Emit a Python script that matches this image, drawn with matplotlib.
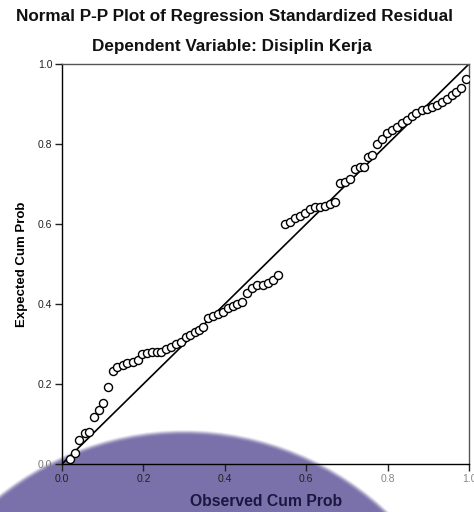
import numpy as np
import matplotlib
matplotlib.use('Agg')
import matplotlib.pyplot as plt
from matplotlib.patches import Ellipse

plt.rcParams['font.family'] = ['Liberation Sans', 'DejaVu Sans']

# observed vs expected cumulative probability
observed = [0.020, 0.032, 0.042, 0.057, 0.066, 0.079, 0.091, 0.101, 0.113, 0.125,
            0.135, 0.150, 0.160, 0.174, 0.187, 0.197, 0.209, 0.221, 0.233, 0.243,
            0.256, 0.268, 0.280, 0.292, 0.305, 0.314, 0.327, 0.337, 0.346, 0.359,
            0.371, 0.383, 0.396, 0.408, 0.420, 0.430, 0.442, 0.455, 0.467, 0.479,
            0.494, 0.506, 0.518, 0.531,
            0.548, 0.560, 0.572, 0.585, 0.597, 0.609, 0.622, 0.634, 0.646, 0.658,
            0.671, 0.683, 0.695, 0.708, 0.720, 0.732, 0.742, 0.752, 0.762, 0.774,
            0.786, 0.799, 0.811, 0.823, 0.835, 0.848, 0.860, 0.870, 0.885, 0.897,
            0.909, 0.921, 0.934, 0.946, 0.958, 0.968, 0.980, 0.993]
expected = [0.013, 0.028, 0.060, 0.078, 0.080, 0.118, 0.135, 0.153, 0.193, 0.233,
            0.243, 0.248, 0.253, 0.255, 0.260, 0.275, 0.278, 0.280, 0.280, 0.280,
            0.288, 0.293, 0.300, 0.305, 0.318, 0.323, 0.330, 0.335, 0.343, 0.365,
            0.370, 0.375, 0.380, 0.390, 0.395, 0.400, 0.405, 0.428, 0.440, 0.448,
            0.448, 0.453, 0.460, 0.473,
            0.600, 0.605, 0.615, 0.620, 0.628, 0.638, 0.643, 0.643, 0.645, 0.650,
            0.655, 0.703, 0.705, 0.713, 0.738, 0.743, 0.743, 0.768, 0.773, 0.800,
            0.813, 0.828, 0.835, 0.843, 0.853, 0.860, 0.870, 0.878, 0.885, 0.888,
            0.893, 0.898, 0.905, 0.913, 0.923, 0.930, 0.940, 0.963]

ticks = [0.0, 0.2, 0.4, 0.6, 0.8, 1.0]
tick_labels = ['0.0', '0.2', '0.4', '0.6', '0.8', '1.0']

fig = plt.figure(figsize=(4.74, 5.12), dpi=100)
fig.patch.set_facecolor('white')

# background layer with the purple overlay blob (soft edge)
bg = fig.add_axes([0, 0, 1, 1])
bg.set_xlim(0, 474)
bg.set_ylim(512, 0)
bg.axis('off')
for k in range(8):
    bg.add_patch(Ellipse((184, 727), 2 * (297 - k), 2 * (297 - k),
                         color='#7a70aa', alpha=0.15 + 0.12 * k, lw=0))

ax = fig.add_axes([62 / 474, 48 / 512, 407 / 474, 400 / 512])
ax.patch.set_alpha(0)
ax.plot([0, 1], [0, 1], color='black', lw=1.2, zorder=2)
ax.plot(observed, expected, 'o', ms=5.8, mfc='white', mec='black', mew=1.0, zorder=3)

ax.set_xlim(0, 1)
ax.set_ylim(0, 1)
ax.set_xticks(ticks)
ax.set_yticks(ticks)
ax.set_xticklabels(tick_labels)
ax.set_yticklabels(tick_labels)
ax.tick_params(direction='out', length=5, width=1, labelsize=7.5, pad=2, colors='#222222')
for lbl in ax.get_xticklabels()[4:]:
    lbl.set_color('#888888')
ax.get_yticklabels()[0].set_color('#777777')
for sp in ax.spines.values():
    sp.set_linewidth(1.0)
ax.spines['top'].set_color('#555555')
ax.spines['right'].set_color('#555555')

ax.set_ylabel('Expected Cum Prob', fontsize=9.5, fontweight='bold', labelpad=7)

fig.text(234 / 474, 1 - 17 / 512, 'Normal P-P Plot of Regression Standardized Residual',
         ha='center', va='center', fontsize=12.3, fontweight='bold', color='#111111')
fig.text(232 / 474, 1 - 47 / 512, 'Dependent Variable: Disiplin Kerja',
         ha='center', va='center', fontsize=12.3, fontweight='bold', color='#111111')
fig.text(266 / 474, 1 - 502 / 512, 'Observed Cum Prob',
         ha='center', va='center', fontsize=11.3, fontweight='bold', color='#1a1840')

plt.savefig('out.png', dpi=100)
plt.close()
